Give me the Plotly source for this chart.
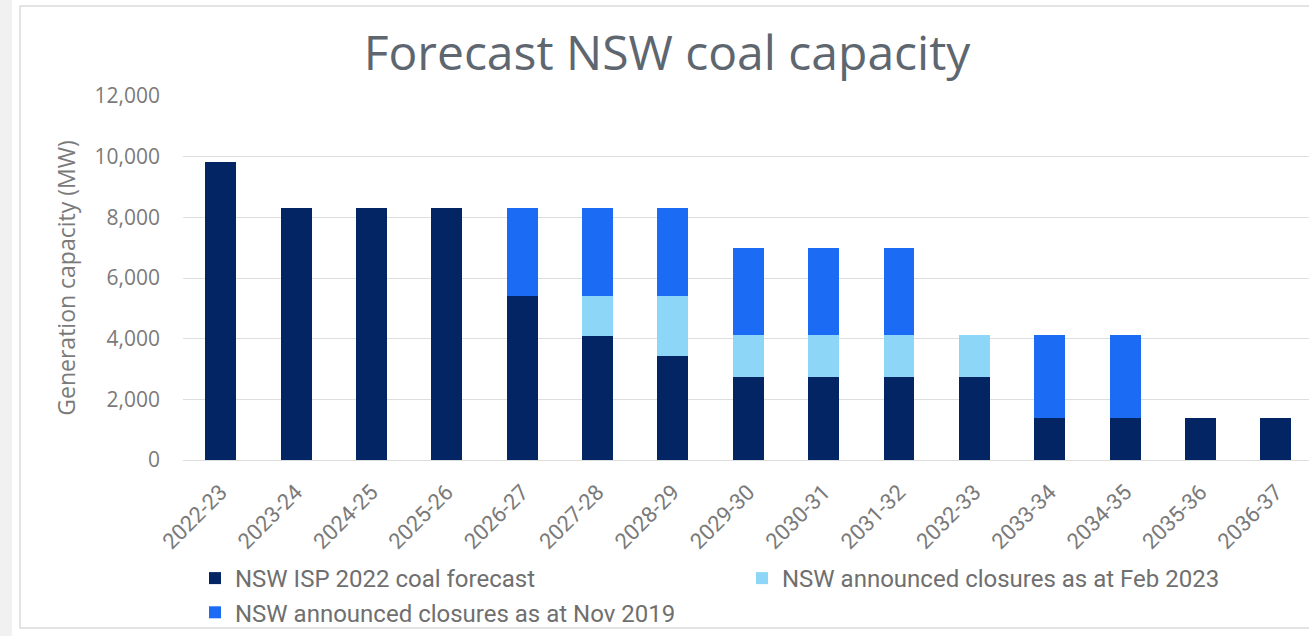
import plotly.graph_objects as go

years = ["2022-23", "2023-24", "2024-25", "2025-26", "2026-27", "2027-28", "2028-29",
         "2029-30", "2030-31", "2031-32", "2032-33", "2033-34", "2034-35", "2035-36", "2036-37"]
isp_2022 = [9820, 8310, 8310, 8310, 5410, 4090, 3430, 2745, 2745, 2745, 2745, 1385, 1385, 1385, 1385]
closures_feb_2023 = [0, 0, 0, 0, 0, 1320, 1980, 1375, 1375, 1375, 1375, 0, 0, 0, 0]
closures_nov_2019 = [0, 0, 0, 0, 2900, 2900, 2900, 2870, 2870, 2870, 0, 2735, 2735, 0, 0]
y_ticks = [0, 2000, 4000, 6000, 8000, 10000, 12000]

W, H = 1309, 636
ML, MR, MT, MB = 183, 0, 96, 176
PW, PH = W - ML - MR, H - MT - MB

def px(x):
    return (x - ML) / PW

def py(y):
    return (H - MB - y) / PH

fig = go.Figure()
fig.add_trace(go.Bar(x=years, y=isp_2022, name="NSW ISP 2022 coal forecast",
                     marker=dict(color="#032563", line=dict(width=0))))
fig.add_trace(go.Bar(x=years, y=closures_feb_2023, name="NSW announced closures as at Feb 2023",
                     marker=dict(color="#8dd6f7", line=dict(width=0))))
fig.add_trace(go.Bar(x=years, y=closures_nov_2019, name="NSW announced closures as at Nov 2019",
                     marker=dict(color="#1c6bf4", line=dict(width=0))))

shapes = [
    dict(type="rect", xref="paper", yref="paper", x0=px(0), x1=px(12), y0=py(0), y1=py(H),
         fillcolor="#f1f1f1", line=dict(width=0), layer="below"),
    dict(type="rect", xref="paper", yref="paper", x0=px(20), x1=px(1330), y0=py(6), y1=py(628),
         fillcolor="rgba(0,0,0,0)", line=dict(color="#dcdcdc", width=1.5), layer="below"),
]

fig.update_layout(
    width=W, height=H,
    margin=dict(l=ML, r=MR, t=MT, b=MB, pad=0, autoexpand=False),
    paper_bgcolor="white", plot_bgcolor="white",
    barmode="stack", bargap=0.59,
    title=dict(text="Forecast NSW coal capacity", xref="container", x=667 / W, xanchor="center",
               yref="container", y=1 - 53 / H, yanchor="middle",
               font=dict(family="Open Sans", size=48, color="#5e6670")),
    xaxis=dict(range=[-0.5, 14.44], tickangle=-45, showgrid=False, showline=False,
               ticks="", ticklabelstandoff=14,
               tickfont=dict(family="Roboto", size=22, color="#7a7a7a"),
               fixedrange=True),
    yaxis=dict(range=[0, 12000], tickvals=y_ticks, tickformat=",d",
               gridcolor="#dedede", gridwidth=1, zeroline=True, zerolinecolor="#dedede",
               zerolinewidth=1, showline=False, ticks="", ticklabelstandoff=22,
               tickfont=dict(family="Open Sans", size=21, color="#7a7a7a"),
               title=dict(text="Generation capacity (MW)", standoff=12,
                          font=dict(family="Open Sans", size=23, color="#7a7a7a"))),
    legend=dict(orientation="h", x=px(195), xanchor="left", y=py(556), yanchor="top",
                entrywidth=502, entrywidthmode="pixels", itemwidth=30,
                font=dict(family="Roboto", size=24, color="#6f6f6f"),
                bgcolor="rgba(0,0,0,0)", traceorder="normal"),
    shapes=shapes,
    showlegend=True,
)

fig.write_html("out.html", config={"displayModeBar": False},
               post_script="document.body.style.margin='0';")
